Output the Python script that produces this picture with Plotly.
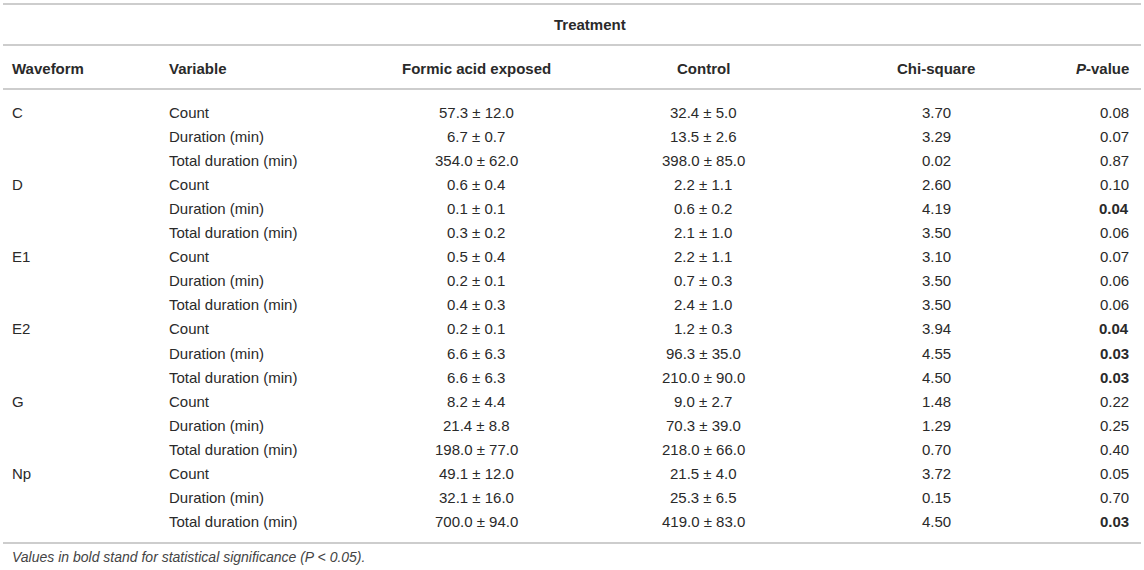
import plotly.graph_objects as go

waveforms = ["C", "", "", "D", "", "", "E1", "", "", "E2", "", "", "G", "", "", "Np", "", ""]
variables = ["Count", "Duration (min)", "Total duration (min)"] * 6
formic = ["57.3 ± 12.0", "6.7 ± 0.7", "354.0 ± 62.0",
          "0.6 ± 0.4", "0.1 ± 0.1", "0.3 ± 0.2",
          "0.5 ± 0.4", "0.2 ± 0.1", "0.4 ± 0.3",
          "0.2 ± 0.1", "6.6 ± 6.3", "6.6 ± 6.3",
          "8.2 ± 4.4", "21.4 ± 8.8", "198.0 ± 77.0",
          "49.1 ± 12.0", "32.1 ± 16.0", "700.0 ± 94.0"]
control = ["32.4 ± 5.0", "13.5 ± 2.6", "398.0 ± 85.0",
           "2.2 ± 1.1", "0.6 ± 0.2", "2.1 ± 1.0",
           "2.2 ± 1.1", "0.7 ± 0.3", "2.4 ± 1.0",
           "1.2 ± 0.3", "96.3 ± 35.0", "210.0 ± 90.0",
           "9.0 ± 2.7", "70.3 ± 39.0", "218.0 ± 66.0",
           "21.5 ± 4.0", "25.3 ± 6.5", "419.0 ± 83.0"]
chi_square = ["3.70", "3.29", "0.02", "2.60", "4.19", "3.50",
              "3.10", "3.50", "3.50", "3.94", "4.55", "4.50",
              "1.48", "1.29", "0.70", "3.72", "0.15", "4.50"]
p_values = ["0.08", "0.07", "0.87", "0.10", "0.04", "0.06",
            "0.07", "0.06", "0.06", "0.04", "0.03", "0.03",
            "0.22", "0.25", "0.40", "0.05", "0.70", "0.03"]
significant = [False, False, False, False, True, False,
               False, False, False, True, True, True,
               False, False, False, False, False, True]

headers = ["Waveform", "Variable", "Formic acid exposed", "Control", "Chi-square", "<i>P</i>-value"]
group_title = "Treatment"
footnote = "Values in bold stand for statistical significance (P < 0.05)."

# layout in pixel units
W, H = 1144, 570
col_x = [10, 167, 476, 703, 936, 1131]
col_anchor = ["left", "left", "center", "center", "center", "right"]
row0_y, row_h = 112, 24.1
line_y = [4, 45, 89, 543]
txt = "#2a2a2a"
font = "Liberation Sans, Arial, Helvetica, sans-serif"

fig = go.Figure()
ann = []

def cell(x, y, text, anchor, bold=False, size=15, color=txt, italic=False):
    if bold:
        text = "<b>" + text + "</b>"
    if italic:
        text = "<i>" + text + "</i>"
    ann.append(dict(x=x, y=y, text=text, xanchor=anchor, yanchor="middle",
                    showarrow=False, font=dict(size=size, color=color, family=font)))

cell(590, 24, group_title, "center", bold=True)
for x, h, a in zip(col_x, headers, col_anchor):
    cell(x, 68, h, a, bold=True)

for i in range(len(variables)):
    y = row0_y + i * row_h
    vals = [waveforms[i], variables[i], formic[i], control[i], chi_square[i], p_values[i]]
    for j, (x, v, a) in enumerate(zip(col_x, vals, col_anchor)):
        cell(x, y, v, a, bold=(j == 5 and significant[i]))

cell(10, 557, footnote, "left", size=14, color="#444444", italic=True)

shapes = [dict(type="line", x0=3, x1=1141, y0=y, y1=y,
               line=dict(color="#bdbdbd", width=1.5)) for y in line_y]

fig.update_layout(
    width=W, height=H,
    margin=dict(l=0, r=0, t=0, b=0),
    paper_bgcolor="white", plot_bgcolor="white",
    xaxis=dict(range=[0, W], visible=False, fixedrange=True),
    yaxis=dict(range=[H, 0], visible=False, fixedrange=True),
    annotations=ann, shapes=shapes, showlegend=False,
)
fig.write_html("out.html", config={"displayModeBar": False},
               post_script="document.body.style.margin='0px';")
